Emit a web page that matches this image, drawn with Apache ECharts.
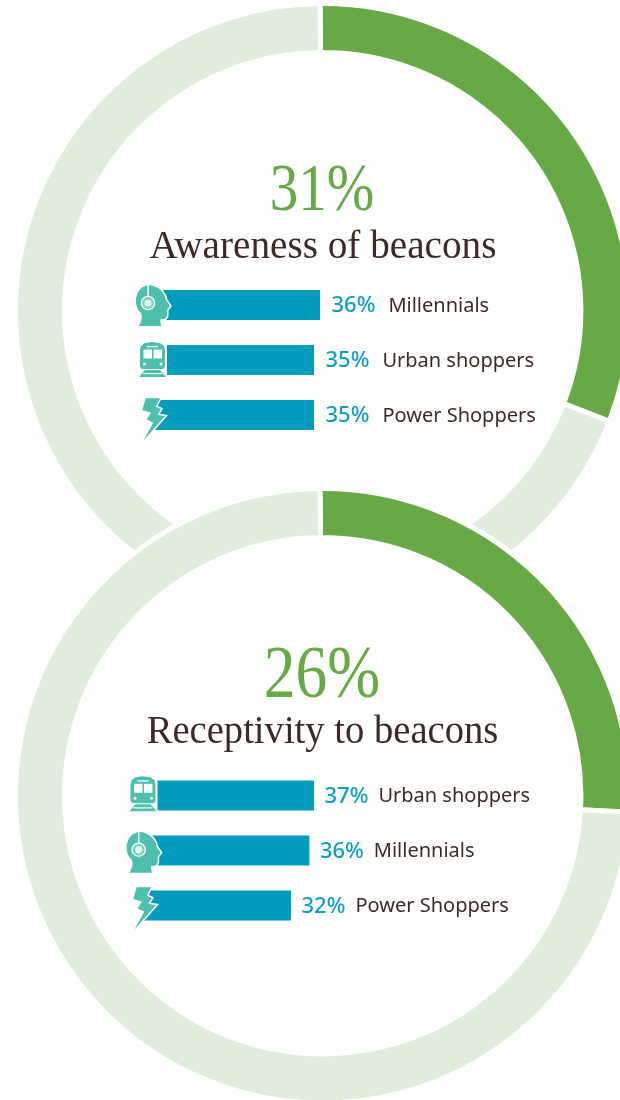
<!DOCTYPE html>
<html><head><meta charset="utf-8">
<style>html,body{margin:0;padding:0;background:#fff}#c{width:620px;height:1100px}</style>
<script src="https://cdn.jsdelivr.net/npm/echarts@6/dist/echarts.min.js"></script>
</head><body><div id="c"></div>
<script>
const ringValues1 = [31, 69];
const ringValues2 = [26, 74];
const headline1 = '31%', headline2 = '26%';
const title1 = 'Awareness of beacons', title2 = 'Receptivity to beacons';
const categories1 = ['Millennials', 'Urban shoppers', 'Power Shoppers'];
const values1 = [36, 35, 35];
const categories2 = ['Urban shoppers', 'Millennials', 'Power Shoppers'];
const values2 = [37, 36, 32];

const GREEN = '#66a945', PALE = '#e0ecdc', BLUE = '#039cbf', TEAL = '#4cc0ad', DARK = '#3c2a26';
const SANS = '"Noto Sans", sans-serif', SERIF = '"Liberation Serif", serif';

const chart = echarts.init(document.getElementById('c'), null, {renderer: 'canvas'});

function ring(values, cy, z) {
  return {
    type: 'pie', silent: true, z, center: [322.7, cy], radius: [258.2, 307.2], startAngle: 90.5, clockwise: true,
    label: {show: false}, labelLine: {show: false}, animation: false,
    itemStyle: {borderColor: '#fff', borderWidth: 5},
    data: values.map((v, i) => ({value: v, itemStyle: {color: i === 0 ? GREEN : PALE}}))
  };
}
function disc(cy, z) {
  return {type: 'pie', silent: true, z, center: [322.7, cy], radius: [0, 309.2], animation: false,
    label: {show: false}, labelLine: {show: false}, itemStyle: {color: '#fff'}, data: [1]};
}
function bars(idx, cats, vals, dist, gap, dy) {
  return {
    type: 'bar', z: 3, xAxisIndex: idx, yAxisIndex: idx, barWidth: 30, silent: true, animation: false,
    itemStyle: {color: BLUE},
    data: vals,
    label: {
      show: true, position: 'right', distance: dist, offset: [0, dy],
      formatter: p => `{v|${p.value}%}{n|${p.name}}`,
      rich: {
        v: {fontFamily: SANS, fontSize: 22, fontWeight: 500, color: '#0f9fc3'},
        n: {fontFamily: SANS, fontSize: 20, color: DARK, padding: [0, 0, 0, gap]}
      }
    }
  };
}
function yAxis(idx, cats) {
  return {type: 'category', gridIndex: idx, data: cats, inverse: true, show: false};
}
function xAxis(idx, min, max) {
  return {type: 'value', gridIndex: idx, min, max, show: false};
}

const HEAD = [[148,285],[153,285.8],[158,288],[162,291.5],[165,296],[166,300],[170,306],[167,310],[167,316],[165.5,318.5],[160,319.5],[161,326],[139,326],[141.5,320],[142,316],[141,313],[138,309.5],[136,304],[136,298],[138,292],[142,287.5]];
const TRAIN = [[140,350],[141,346],[145,343],[152,342],[160,343],[164,346],[165,350],[165,366],[164,368.5],[162,369],[143,369],[141,368.5],[140,366]];
const RAILS = [[145,370],[160,370],[166,377],[139,377]];
const BOLT = [[145.7,398.3],[160,398.3],[155.7,406.7],[161,409],[157.3,415],[165,416],[143.3,440.7],[153.3,422.7],[146.7,419.3],[151,412.7],[142.3,410]];

function poly(points, dx, dy, fill, stroke, z) {
  return {type: 'polygon', x: dx, y: dy, z: z, silent: true, shape: {points},
    style: {fill, stroke: stroke || null, lineWidth: stroke ? 3 : 0}};
}
function rect(x, y, w, h, dx, dy, fill, z) {
  return {type: 'rect', x: dx, y: dy, z, silent: true, shape: {x, y, width: w, height: h}, style: {fill}};
}
function circle(cx, cy, r, dx, dy, fill, z, stroke) {
  return {type: 'circle', x: dx, y: dy, z, silent: true, shape: {cx, cy, r},
    style: {fill, stroke: stroke || null, lineWidth: stroke ? 1.3 : 0}};
}
function headIcon(dx, dy) {
  return [
    poly(HEAD, dx, dy, '#fff', '#fff', 9),
    poly(HEAD, dx, dy, TEAL, null, 10),
    rect(147.4, 285, 1.4, 11, dx, dy, '#fff', 11),
    circle(148, 303, 6.6, dx, dy, 'rgba(255,255,255,0.25)', 11, '#fff'),
    circle(148, 303, 3.6, dx, dy, '#dff3ef', 12)
  ];
}
function trainIcon(dx, dy) {
  return [
    rect(137, 343, 30, 35, dx, dy, '#fff', 9),
    poly(TRAIN, dx, dy, TEAL, null, 10),
    poly(RAILS, dx, dy, TEAL, null, 10),
    rect(143, 373, 19, 1.2, dx, dy, '#fff', 11),
    rect(143.5, 349.5, 8.5, 9, dx, dy, '#fff', 11),
    rect(153.5, 349.5, 8.5, 9, dx, dy, '#fff', 11),
    rect(147, 346, 11, 1.3, dx, dy, '#fff', 11),
    circle(144.5, 364, 1.5, dx, dy, '#fff', 11),
    circle(161, 364, 1.5, dx, dy, '#fff', 11)
  ];
}
function boltIcon(dx, dy) {
  return [poly(BOLT, dx, dy, '#fff', '#fff', 9), poly(BOLT, dx, dy, TEAL, null, 10)];
}
function bigText(text, x, y, size, fill, sx) {
  return {type: 'text', x, y, z: 10, scaleX: sx, silent: true,
    style: {text, fill, font: `${size}px ${SERIF}`, textAlign: 'center', textVerticalAlign: 'middle'}};
}

chart.setOption({
  animation: false,
  backgroundColor: '#fff',
  grid: [
    {left: 152, width: 168, top: 277.5, height: 165},
    {left: 144, width: 170, top: 768, height: 165}
  ],
  xAxis: [xAxis(0, 8, 36), xAxis(1, 0, 37)],
  yAxis: [yAxis(0, categories1), yAxis(1, categories2)],
  series: [
    ring(ringValues1, 310.7, 0),
    disc(795.7, 1),
    ring(ringValues2, 795.7, 2),
    bars(0, categories1, values1, 11.5, 13, 1),
    bars(1, categories2, values2, 10.5, 10, 1)
  ],
  graphic: [
    bigText(headline1, 322, 192, 68, GREEN, 0.84),
    bigText(title1, 323, 248, 39, DARK, 1.005),
    bigText(headline2, 322, 678, 73, GREEN, 0.87),
    bigText(title2, 322.5, 733, 39, DARK, 0.99),
    ...headIcon(0, 0), ...trainIcon(0, 0), ...boltIcon(0, 0),
    ...trainIcon(-9.5, 434.3), ...headIcon(-9.3, 546.7), ...boltIcon(-9, 489)
  ]
});
</script></body></html>
